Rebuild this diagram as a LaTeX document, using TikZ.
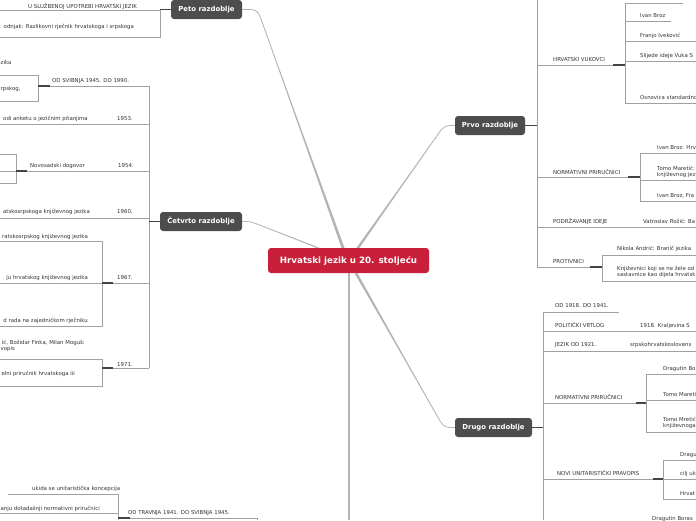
\documentclass[tikz,border=0pt]{standalone}
\usepackage{fontspec}
\setmainfont{DejaVu Sans}
\usetikzlibrary{positioning}
\definecolor{cRoot}{HTML}{C8203A}
\definecolor{cTopic}{HTML}{4D4D4D}
\definecolor{cLine}{HTML}{A0A0A0}
\definecolor{cTrunk}{HTML}{B4B4B4}
\definecolor{cStub}{HTML}{444444}
\definecolor{cText}{HTML}{333333}

\begin{document}
\begin{tikzpicture}[x=1pt, y=-1pt,
      root/.style = {fill=cRoot, rounded corners=3pt, text=white, font=\bfseries\fontsize{8.7}{10}\selectfont, minimum width=161pt, minimum height=25pt, inner sep=0pt},
      topic/.style = {fill=cTopic, rounded corners=3pt, text=white, font=\bfseries\fontsize{6.9}{8}\selectfont, minimum height=19pt, inner sep=0pt},
      lbl/.style = {font=\fontsize{5.4}{6.4}\selectfont, text=cText, inner sep=0pt, anchor=base west},
      lblr/.style = {lbl, anchor=base east},
      ln/.style = {draw=cLine, line width=0.7pt},
      stub/.style = {draw=cStub, line width=1.4pt},
      twig/.style = {draw=cTrunk, line width=0.8pt} ]
    \useasboundingbox (0,0) rectangle (696,520);
    \clip (0,0) rectangle (696,520);

    \node[root] (root) at (348.5,260.5) {Hrvatski jezik u 20. stoljeću};
    \node[topic, minimum width=71pt] (peto) at (206.5,9.5) {Peto razdoblje};
    \node[topic, minimum width=82pt] (cetvrto) at (201,221.5) {Četvrto razdoblje};
    \node[topic, minimum width=70pt] (prvo) at (490,125.5) {Prvo razdoblje};
    \node[topic, minimum width=77pt] (drugo) at (493.5,427.5) {Drugo razdoblje};

    % grane iz sredista
    \fill[cTrunk] ([xshift=-7pt]root.north) -- ([xshift=-4pt]root.north) -- (261,19) -- cycle;
    \draw[twig] ([xshift=-5.5pt]root.north) -- (261,19) .. controls (257,9.5) .. (peto.east);
    \fill[cTrunk] ([xshift=-32pt]root.north) -- ([xshift=-29pt]root.north) -- (257,224) -- cycle;
    \draw[twig] ([xshift=-30.5pt]root.north) -- (257,224) .. controls (250,221.5) .. (cetvrto.east);
    \fill[cTrunk] ([xshift=8pt]root.north) -- ([xshift=11pt]root.north) -- (441,130) -- cycle;
    \draw[twig] ([xshift=9.5pt]root.north) -- (441,130) .. controls (446,125.5) .. (prvo.west);
    \fill[cTrunk] ([xshift=6pt]root.south) -- ([xshift=9pt]root.south) -- (440,421) -- cycle;
    \draw[twig] ([xshift=7.5pt]root.south) -- (440,421) .. controls (445,427.5) .. (drugo.west);
    \draw[cTrunk, line width=2pt] (root.south) -- (348.5,520);

    % Peto razdoblje
    \draw[ln] (0,10) -- (160,10) -- (160,37) -- (0,37);
    \draw[stub] (peto.west) -- (160,9.5);
    \node[lbl] (p1) at (28,8) {U SLUŽBENOJ UPOTREBI HRVATSKI JEZIK};
    \node[lblr] (p2) at (134,28) {odnjak: Razlikovni rječnik hrvatskoga i srpskoga};

    % Cetvrto razdoblje
    \draw[ln] (149,86) -- (149,368);
    \draw[ln] (0,75) -- (38,75) -- (38,101) -- (0,101) (38,86) -- (149,86);
    \draw[ln] (0,124) -- (149,124);
    \draw[ln] (0,154) -- (16,154) -- (16,183) -- (0,183) (0,171) -- (149,171);
    \draw[ln] (0,218) -- (149,218);
    \draw[ln] (0,241) -- (102,241) -- (102,326) -- (0,326) (0,283) -- (149,283);
    \draw[ln] (0,359) -- (102,359) -- (102,386) -- (0,386) (102,368) -- (149,368);
    \draw[stub] (cetvrto.west) -- (149,221.5);
    \draw[stub] (38,86) -- (50,86) (16,171) -- (27,171) (102,283) -- (113,283) (102,368) -- (113,368);
    \node[lbl] (c1) at (0.5,64) {zika};
    \node[lbl] (c2) at (52,82) {OD SVIBNJA 1945. DO 1990.};
    \node[lbl] (c3) at (0.5,90) {rpskog,};
    \node[lblr] (c4) at (88,120) {odi anketu o jezičnim pitanjima};
    \node[lbl] (c5) at (117,120) {1953.};
    \node[lbl] (c6) at (30,167) {Novosadski dogovor};
    \node[lbl] (c7) at (118,167) {1954.};
    \node[lblr] (c8) at (90,213) {atskosrpskoga književnog jezika};
    \node[lbl] (c9) at (117,213) {1960.};
    \node[lblr] (c10) at (88,238) {ratskosrpskog književnog jezika};
    \node[lblr] (c11) at (88,279) {ju hrvatskog književnog jezika};
    \node[lbl] (c12) at (117,279) {1967.};
    \node[lblr] (c13) at (88,322) {d rada na zajedničkom rječniku};
    \node[lblr] (c14) at (85,344) {ić, Božidar Finka, Milan Moguš:};
    \node[lbl] (c15) at (0.5,350) {vopis};
    \node[lbl] (c16) at (117,366) {1971.};
    \node[lblr] (c17) at (75,375) {elni priručnik hrvatskoga iii};

    % dolje lijevo
    \draw[ln] (8,494) -- (118,494) -- (118,520) (0,513) -- (118,513) (118,518) -- (257,518) -- (257,520);
    \draw[stub] (118,518) -- (130,518);
    \node[lbl] (t1) at (32,490) {ukida se unitaristička koncepcija};
    \node[lblr] (t2) at (100,510) {anju dotadašnji normativni priručnici};
    \node[lbl] (t3) at (128,514) {OD TRAVNJA 1941. DO SVIBNJA 1945.};

    % Prvo razdoblje
    \draw[ln] (537,0) -- (537,267);
    \draw[ln] (537,65) -- (625,65) (625,3) -- (625,103) (625,3) -- (683,3) (625,21) -- (671,21)
      (625,41) -- (696,41) (625,61) -- (696,61) (625,103) -- (696,103);
    \draw[ln] (537,177) -- (640,177) (640,153) -- (640,201) (640,153) -- (696,153) (640,180) -- (696,180) (640,201) -- (696,201);
    \draw[ln] (537,227) -- (696,227);
    \draw[ln] (537,267) -- (602,267) (602,255) -- (602,281) (602,255) -- (696,255) (602,281) -- (696,281);
    \draw[stub] (prvo.east) -- (537,125.5);
    \draw[stub] (613,65) -- (625,65) (628,177) -- (640,177) (590,267) -- (602,267);
    \node[lbl] (r1) at (553,61) {HRVATSKI VUKOVCI};
    \node[lbl] (r2) at (640,17) {Ivan Broz};
    \node[lbl] (r3) at (640,37) {Franjo Iveković};
    \node[lbl] (r4) at (640,57) {Slijede ideje Vuka S};
    \node[lbl] (r5) at (640,99) {Osnovica standardno};
    \node[lbl] (r6) at (553,174) {NORMATIVNI PRIRUČNICI};
    \node[lbl] (r7) at (657,149) {Ivan Broz: Hrv};
    \node[lbl] (r8) at (657,170) {Tomo Maretić:};
    \node[lbl] (r9) at (657,176) {književnog jez};
    \node[lbl] (r10) at (657,197) {Ivan Broz, Fra};
    \node[lbl] (r11) at (553,223) {PODRŽAVANJE IDEJE};
    \node[lbl] (r12) at (643,223) {Vatroslav Rožić: Ba};
    \node[lbl] (r13) at (553,263) {PROTIVNICI};
    \node[lbl] (r14) at (617,250) {Nikola Andrić: Branič jezika};
    \node[lbl] (r15) at (617,270) {Književnici koji se ne žele od};
    \node[lbl] (r16) at (617,276) {sastavnice kao dijela hrvatsk};

    % Drugo razdoblje
    \draw[ln] (543,312) -- (543,520);
    \draw[ln] (543,312) -- (619,312) (543,331) -- (696,331) (543,351) -- (696,351);
    \draw[ln] (543,403) -- (646,403) (646,374) -- (646,432) (646,374) -- (696,374) (646,400) -- (696,400) (646,432) -- (696,432);
    \draw[ln] (543,479) -- (696,479) (663,460) -- (663,499) (663,460) -- (696,460) (663,499) -- (696,499);
    \draw[stub] (drugo.east) -- (543,427.5);
    \draw[stub] (636,403) -- (646,403) (653,479) -- (663,479);
    \node[lbl] (d1) at (555,307) {OD 1918. DO 1941.};
    \node[lbl] (d2) at (555,327) {POLITIČKI VRTLOG};
    \node[lbl] (d3) at (640,327) {1918. Kraljevina S};
    \node[lbl] (d4) at (555,346) {JEZIK OD 1921.};
    \node[lbl] (d5) at (630,346) {srpskohrvatskoslovens};
    \node[lbl] (d6) at (555,399) {NORMATIVNI PRIRUČNICI};
    \node[lbl] (d7) at (663,370) {Dragutin Bo};
    \node[lbl] (d8) at (663,396) {Tomo Mareti};
    \node[lbl] (d9) at (663,421) {Tomo Mretić};
    \node[lbl] (d10) at (663,427) {književnoga};
    \node[lbl] (d11) at (557,475) {NOVI UNITARISTIČKI PRAVOPIS};
    \node[lbl] (d12) at (680,456) {Dragu};
    \node[lbl] (d13) at (680,475) {cilj uk};
    \node[lbl] (d14) at (680,495) {Hrvat};
    \node[lbl] (d15) at (652,520) {Dragutin Boras};
  \end{tikzpicture}
\end{document}
